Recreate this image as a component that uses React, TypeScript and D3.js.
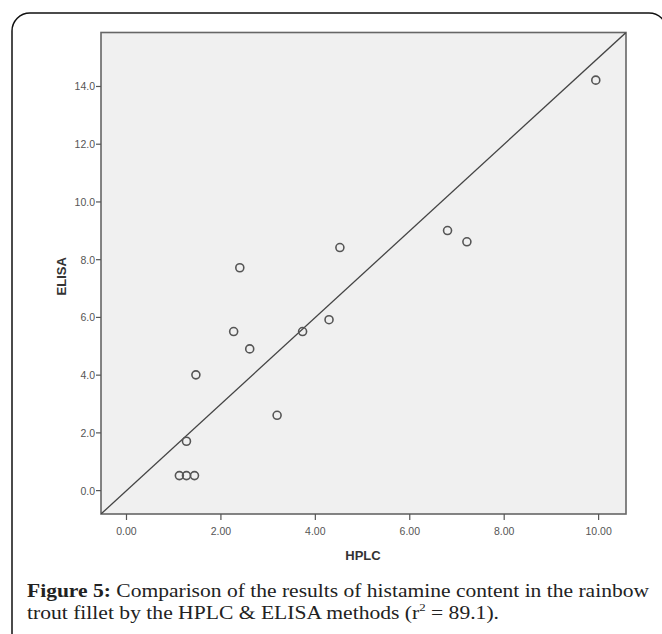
import React from "react";
import * as d3 from "d3";

const hplc = [9.94, 4.52, 2.40, 6.80, 7.21, 2.27, 3.73, 4.29, 2.61, 1.47, 3.19, 1.27, 1.12, 1.27, 1.44];
const elisa = [14.22, 8.42, 7.72, 9.01, 8.62, 5.51, 5.51, 5.92, 4.91, 4.01, 2.61, 1.71, 0.52, 0.52, 0.52];
const xTicks = [0, 2, 4, 6, 8, 10];
const yTicks = [0, 2, 4, 6, 8, 10, 12, 14];
const fitSlope = 1.5;
const fitIntercept = 0.0;
const xTitle = "HPLC";
const yTitle = "ELISA";
const captionBold = "Figure 5:";
const captionLine1 = " Comparison of the results of histamine content in the rainbow";
const captionLine2 = "trout fillet by the HPLC & ELISA methods (r";
const captionSup = "2";
const captionEnd = " = 89.1).";

export default function App() {
  const W = 662, H = 634;
  const L = 101, R = 626, T = 32.5, B = 514;
  const x = d3.scaleLinear().domain([-0.54, 10.58]).range([L, R]);
  const y = d3.scaleLinear().domain([-0.81, 15.87]).range([B, T]);
  const xd = x.domain();
  const line = d3.line<number>().x((d) => x(d)).y((d) => y(fitIntercept + fitSlope * d));
  const tickFont = "'Liberation Sans', Arial, sans-serif";
  const serif = "'Liberation Serif', 'DejaVu Serif', serif";
  return (
    <svg width={W} height={H} style={{ position: "absolute", left: 0, top: 0, background: "#fff" }}>
      <defs>
        <clipPath id="plotclip">
          <rect x={L} y={T} width={R - L} height={B - T} />
        </clipPath>
      </defs>
      <rect x={12} y={13} width={655} height={640} rx={18} ry={18} fill="none" stroke="#111" strokeWidth={1.5} />
      <rect x={L} y={T} width={R - L} height={B - T} fill="#f0f0f0" stroke="#666" strokeWidth={1.6} />
      <path d={line(xd) || ""} fill="none" stroke="#444" strokeWidth={1.3} clipPath="url(#plotclip)" />
      {hplc.map((v, i) => (
        <circle key={i} cx={x(v)} cy={y(elisa[i])} r={4} fill="none" stroke="#555" strokeWidth={1.6} />
      ))}
      {xTicks.map((t) => (
        <g key={"x" + t}>
          <line x1={x(t)} x2={x(t)} y1={B} y2={B + 6} stroke="#555" strokeWidth={1.2} />
          <text x={x(t)} y={B + 21} textAnchor="middle" fontFamily={tickFont} fontSize={10.5} fill="#555">
            {t.toFixed(2)}
          </text>
        </g>
      ))}
      {yTicks.map((t) => (
        <g key={"y" + t}>
          <line x1={L - 5} x2={L} y1={y(t)} y2={y(t)} stroke="#555" strokeWidth={1.2} />
          <text x={L - 6} y={y(t) + 4} textAnchor="end" fontFamily={tickFont} fontSize={10.5} fill="#555">
            {t.toFixed(1)}
          </text>
        </g>
      ))}
      <text x={363} y={560} textAnchor="middle" fontFamily={tickFont} fontWeight="bold" fontSize={13} fill="#333">
        {xTitle}
      </text>
      <text
        transform={`translate(66,${(T + B) / 2 + 3}) rotate(-90)`}
        textAnchor="middle"
        fontFamily={tickFont}
        fontWeight="bold"
        fontSize={13}
        fill="#333"
      >
        {yTitle}
      </text>
      <text x={27} y={597} fontFamily={serif} fontSize={18.5} fill="#222" textLength={622} lengthAdjust="spacingAndGlyphs">
        <tspan fontWeight="bold">{captionBold}</tspan>
        <tspan>{captionLine1}</tspan>
      </text>
      <text x={27} y={619} fontFamily={serif} fontSize={18.5} fill="#222" textLength={472} lengthAdjust="spacingAndGlyphs">
        <tspan>{captionLine2}</tspan>
        <tspan fontSize={11} dy={-8}>{captionSup}</tspan>
        <tspan dy={8}>{captionEnd}</tspan>
      </text>
    </svg>
  );
}
